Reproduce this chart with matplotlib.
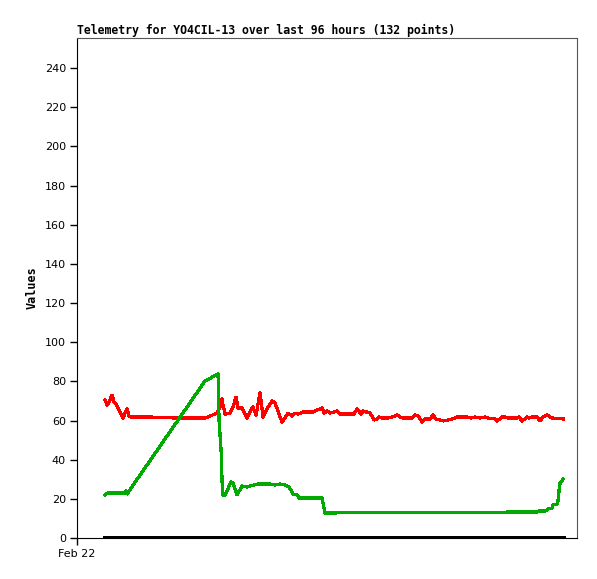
import matplotlib
matplotlib.use('Agg')
import matplotlib.pyplot as plt

# hours since Feb 22 00:00
red_hours = [5.87, 6.29, 6.71, 7.34, 7.76, 8.18, 8.60, 9.22, 9.64, 10.06, 10.48, 10.90,
             11.32, 15.30, 20.55, 26.83, 27.88, 29.35, 29.98, 30.40, 30.61, 31.03,
             32.08, 32.70, 33.33, 33.75, 34.59, 35.64, 36.69, 36.90, 37.53, 38.36,
             38.99, 40.04, 40.88, 41.51, 42.98, 44.23, 45.07, 45.70, 46.33, 47.38,
             49.48, 51.36, 51.78, 52.41, 53.04, 54.51, 55.14, 57.23, 58.07, 58.70,
             59.54, 59.96, 61.43, 62.26, 62.89, 63.31, 63.94, 65.20, 66.04, 67.09,
             67.71, 68.34, 70.23, 70.86, 71.49, 72.33, 72.96, 74.00, 74.63, 75.26,
             76.10, 76.73, 77.78, 78.62, 79.66, 81.76, 82.60, 83.44, 84.49, 85.53,
             86.16, 87.63, 88.05, 89.10, 89.73, 90.36, 92.24, 92.66, 93.29, 94.34,
             94.76, 95.39, 96.44, 97.06, 97.69, 98.53, 99.58, 101.89]
red_values = [70.5, 67.9, 69.5, 73.0, 69.5, 68.4, 66.4, 63.3, 61.3, 63.8, 65.9, 62.3,
              61.8, 61.8, 61.3, 61.3, 62.3, 63.8, 66.9, 71.0, 67.9, 63.3,
              63.8, 66.9, 72.0, 66.4, 66.4, 61.3, 66.4, 66.9, 62.8, 74.1,
              61.8, 66.9, 70.0, 68.9, 59.2, 63.8, 62.3, 63.8, 63.3, 64.4,
              64.4, 66.4, 63.8, 64.9, 63.8, 64.9, 63.3, 63.3, 63.3, 65.9,
              63.3, 64.9, 63.8, 60.3, 60.8, 61.8, 61.3, 61.3, 61.8, 62.8,
              61.8, 61.3, 61.3, 62.8, 62.3, 59.2, 60.8, 60.8, 62.8, 60.8,
              60.3, 59.8, 60.3, 60.8, 61.8, 61.8, 61.3, 61.8, 61.3, 61.8,
              61.3, 60.8, 59.8, 61.8, 61.8, 61.3, 61.3, 61.8, 59.8, 61.8,
              61.3, 61.8, 61.8, 59.8, 61.8, 62.8, 61.3, 60.8]

green_hours = [5.87, 6.50, 10.06, 10.27, 10.48, 26.83, 29.56, 29.77, 30.19, 30.40,
               30.50, 31.03, 32.29, 32.70, 33.54, 34.59, 35.64, 36.27, 37.95, 40.46,
               41.51, 42.56, 43.61, 44.44, 45.28, 46.12, 46.54, 51.36, 51.57, 51.99,
               96.44, 96.86, 98.11, 98.74, 99.58, 99.79, 100.63, 100.84, 101.05,
               101.26, 101.89]
green_values = [22.0, 23.0, 23.0, 24.0, 22.5, 80.2, 83.8, 60.2, 45.0, 29.6,
                22.0, 22.0, 28.6, 28.1, 22.0, 26.6, 26.0, 26.6, 27.6, 27.6,
                27.1, 27.6, 27.1, 26.0, 22.5, 22.0, 20.4, 20.4, 17.9, 12.8,
                13.3, 13.8, 13.8, 14.8, 15.3, 16.9, 17.4, 19.4, 24.5,
                28.1, 30.1]

black_hours = [5.87, 101.89]
black_values = [0, 0]

y_ticks = list(range(0, 241, 20))
x_tick_labels = ['Feb 22']


def main():
    fig = plt.figure(figsize=(5.97, 5.79), dpi=100)
    ax = fig.add_axes([0.129, 0.0708, 0.8375, 0.8636])

    ax.plot(black_hours, black_values, color='black', lw=2.4, antialiased=False)
    ax.plot(red_hours, red_values, color='#ff0000', lw=1.6, antialiased=False)
    ax.plot(green_hours, green_values, color='#00aa00', lw=1.6, antialiased=False)

    ax.set_xlim(0, 104.8)
    ax.set_ylim(0, 255.4)
    ax.set_yticks(y_ticks)
    ax.set_xticks([0])
    ax.set_xticklabels(x_tick_labels)
    ax.tick_params(direction='out', length=5, width=1, labelsize=8, pad=3,
                   colors='black')

    for side in ('top', 'right'):
        ax.spines[side].set_color('#555555')
    for side in ('left', 'bottom'):
        ax.spines[side].set_color('black')

    ax.set_ylabel('Values', fontfamily='DejaVu Sans Mono', fontweight='bold',
                  fontsize=8.5, labelpad=4)
    ax.set_title('Telemetry for YO4CIL-13 over last 96 hours (132 points)',
                 loc='left', fontfamily='DejaVu Sans Mono', fontweight='bold',
                 fontsize=8.3, pad=3)

    fig.savefig('out.png', dpi=100)


if __name__ == "__main__":
    main()
